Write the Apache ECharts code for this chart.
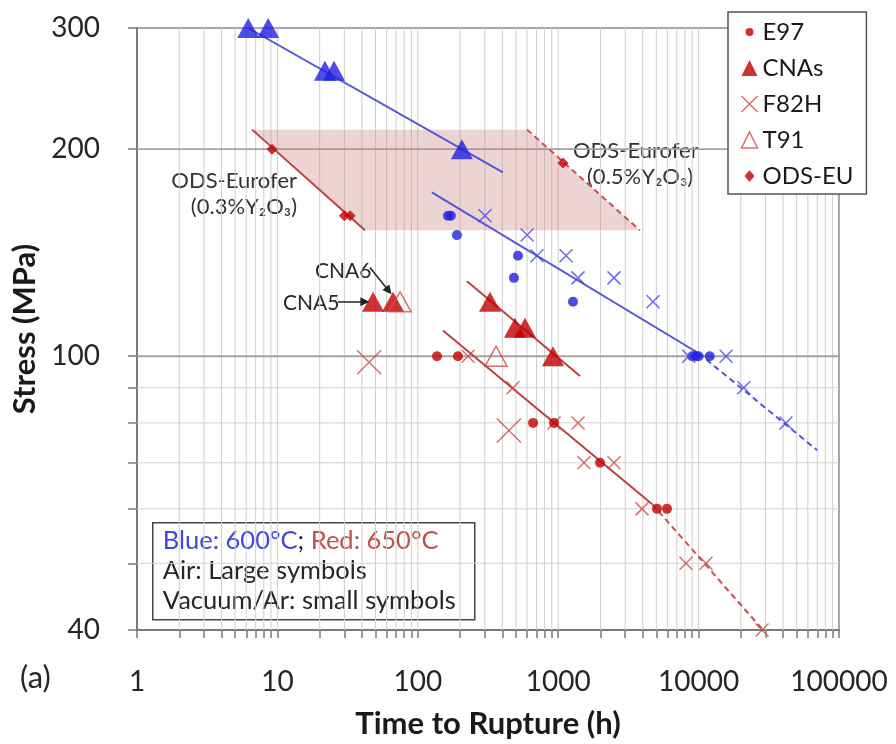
<!DOCTYPE html>
<html><head><meta charset="utf-8">
<script src="https://cdn.jsdelivr.net/npm/echarts@6/dist/echarts.min.js"></script>
<style>html,body{margin:0;padding:0;background:#fff}#c{width:896px;height:744px}</style>
</head><body><div id="c"></div>
<script>
// ---------- tick labels / grid values ----------
const xTickLabels = [1, 10, 100, 1000, 10000, 100000];
const yTickLabels = [40, 100, 200, 300];
const yTickValues = [40, 50, 60, 70, 80, 90, 100, 200, 300];
const yGridMinor = [50, 60, 70, 80, 90];
const yGridMajor = [100, 200];

// ---------- 600 °C (blue) data: [time h, stress MPa] ----------
const e97_600 = [[164,160],[172,160],[190,150],[517,140],[484,130],[1274,120],[9000,100],[9500,100],[10000,100],[12000,100]];
const cnas_600 = [[6.2,300],[8.6,300],[21.8,260],[25.3,260],[206,200]];
const f82h_600 = [[301,160],[600,150],[706,140],[1137,140],[1384,130],[2497,130],[4732,120],[8500,100],[15700,100],[21000,90],[41900,80]];

// ---------- 650 °C (red) data ----------
const e97_650 = [[137,100],[193,100],[662,80],[934,80],[1985,70],[5054,60],[5955,60]];
const cnas_650 = [[48,120],[66.6,120],[327,120],[492,110],[580,110],[918,100]];
const t91_650 = [[74.7,120],[361,100]];
const f82h_650_air = [[45,98],[446,78]];
const f82h_650 = [[228,100],[476,90],[934,80],[1384,80],[1527,70],[2497,70],[3954,60],[8128,50],[11290,50],[28300,40]];
const odsEu = [[9.15,200],[30,160],[33,160],[1082,191]];

// ---------- trend lines ----------
const blueCnaFit = [[6.2,300],[404,185]];
const blueFit = [[126,173],[10000,101]];
const blueFitExt = [[10000,101],[70000,73]];
const redCnaFit = [[224,128.5],[1430,93.6]];
const redFit = [[151,109],[4656,61]];
const redFitExt = [[4656,61],[28770,40]];
const ods03Fit = [[6.6,213.5],[42,152.4]];
const ods05Fit = [[600,213.5],[3826,152.4]];
const odsShade = [[6.6,213.5],[600,213.5],[3826,152.4],[42,152.4]];
const cna5Arrow = [[27,120],[42,120]];
const cna6Arrow = [[45.6,134.6],[62,124.5]];

const lg = Math.log10;
const L = arr => arr.map(p => [lg(p[0]), lg(p[1])]);
const xGridValues = [];
for (let d = 0; d < 5; d++) for (let k = 1; k <= 9; k++) { const v = k * Math.pow(10, d); if (v > 1) xGridValues.push(v); }
const xTickAll = xGridValues.concat([1, 100000]);

const FONT = 'Lato';
const BLUE = '#2020e0', BLUE_L = '#5555dc';
const RED = '#c00000', RED_X = '#cc4a4a', RED_L = '#bb4040';
const XPATH = 'path://M0,0L10,10M10,0L0,10';
const SMALLCIRCLE = 'path://M0,0M16,16M4,8a4,4 0 1 0 8 0a4,4 0 1 0 -8 0z';
const SMALLDIAMOND = 'path://M0,0M16,16M8,2L13,8L8,14L3,8z';

const chart = echarts.init(document.getElementById('c'), null, {renderer: 'canvas'});

function lineSeries(name, data, color, dashed, z) {
  return {name, type: 'line', data: L(data), showSymbol: false, silent: true, z: z || 3,
    lineStyle: {color, width: 2, type: dashed ? [6, 4] : 'solid'}};
}

const option = {
  animation: false,
  textStyle: {fontFamily: FONT},
  grid: {left: 137, right: 57, top: 28, bottom: 112, show: true,
    borderColor: '#8a8a8a', borderWidth: 1.5, backgroundColor: 'transparent'},
  xAxis: {
    type: 'value', min: 0, max: 5, interval: 1,
    name: 'Time to Rupture (h)', nameLocation: 'middle', nameGap: 78,
    nameTextStyle: {fontSize: 31, fontWeight: 'bold', color: '#1a1a1a', fontFamily: FONT},
    axisLine: {show: true, lineStyle: {color: '#7a7a7a', width: 2}},
    axisTick: {show: true, inside: false, length: 8, customValues: xTickAll.map(lg), lineStyle: {color: '#7a7a7a', width: 1.5}},
    axisLabel: {customValues: xTickLabels.map(lg), margin: 38, fontSize: 28, color: '#262626', fontFamily: FONT,
      formatter: v => String(Math.round(Math.pow(10, v)))},
    splitLine: {show: false}
  },
  yAxis: {
    type: 'value', min: lg(40), max: lg(300),
    name: 'Stress (MPa)', nameLocation: 'middle', nameGap: 92, nameRotate: 90,
    nameTextStyle: {fontSize: 31, fontWeight: 'bold', color: '#1a1a1a', fontFamily: FONT},
    axisLine: {show: true, lineStyle: {color: '#7a7a7a', width: 2}},
    axisTick: {show: true, inside: false, length: 9, customValues: yTickValues.map(lg), lineStyle: {color: '#7a7a7a', width: 1.5}},
    axisLabel: {customValues: yTickLabels.map(lg), margin: 37, fontSize: 28, color: '#262626', fontFamily: FONT,
      formatter: v => String(Math.round(Math.pow(10, v)))},
    splitLine: {show: false}
  },
  legend: {
    left: 728, top: 12, orient: 'vertical', selectedMode: false,
    backgroundColor: '#fff', borderColor: '#555', borderWidth: 1.5, borderRadius: 0,
    padding: [8, 13, 6, 11], itemGap: 12, itemWidth: 16, itemHeight: 16,
    textStyle: {fontSize: 24, lineHeight: 24, color: '#1a1a1a', fontFamily: FONT},
    data: [
      {name: 'E97', icon: SMALLCIRCLE, itemStyle: {color: RED, borderWidth: 0}},
      {name: 'CNAs', icon: 'triangle', itemStyle: {color: RED, borderWidth: 0}},
      {name: 'F82H', icon: XPATH, itemStyle: {color: 'none', borderColor: RED_X, borderWidth: 1.5}},
      {name: 'T91', icon: 'triangle', itemStyle: {color: 'none', borderColor: RED_X, borderWidth: 1.5}},
      {name: 'ODS-EU', icon: SMALLDIAMOND, itemStyle: {color: RED, borderWidth: 0}}
    ]
  },
  graphic: [
    {type: 'text', left: 20, top: 662, style: {text: '(a)', fontSize: 31, fill: '#262626', fontFamily: FONT}},
    {type: 'text', right: 896 - 297, top: 170, style: {text: 'ODS-Eurofer', fontSize: 22, fill: '#333', fontFamily: FONT}},
    {type: 'text', right: 896 - 297, top: 196, style: {text: '(0.3%Y₂O₃)', fontSize: 22, fill: '#333', fontFamily: FONT}},
    {type: 'text', left: 573, top: 140, style: {text: 'ODS-Eurofer', fontSize: 22, fill: '#333', fontFamily: FONT}},
    {type: 'text', left: 587, top: 166, style: {text: '(0.5%Y₂O₃)', fontSize: 22, fill: '#333', fontFamily: FONT}},
    {type: 'text', left: 315, top: 261, style: {text: 'CNA6', fontSize: 21, fill: '#262626', fontFamily: FONT}},
    {type: 'text', left: 283, top: 293, style: {text: 'CNA5', fontSize: 21, fill: '#262626', fontFamily: FONT}},
    {type: 'group', left: 152, top: 522, children: [
      {type: 'rect', shape: {x: 0, y: 0, width: 322, height: 97}, style: {fill: '#fff', stroke: '#444', lineWidth: 1.5}},
      {type: 'text', x: 10, y: 3, style: {
        text: '{b|Blue: 600°C}{k|; }{r|Red: 650°C}\nAir: Large symbols\nVacuum/Ar: small symbols',
        fontSize: 25.5, lineHeight: 30, fill: '#262626', fontFamily: FONT,
        rich: {b: {fill: '#4646d8', fontSize: 25.5, fontFamily: FONT}, k: {fill: '#262626', fontSize: 25.5, fontFamily: FONT}, r: {fill: '#c0504d', fontSize: 25.5, fontFamily: FONT}}
      }}
    ]}
  ],
  series: [
    // grid lines
    {type: 'custom', silent: true, z: 1, data: xGridValues.map(v => [lg(v), lg(100)]),
      renderItem: (params, api) => {
        const cs = params.coordSys; const x = api.coord([api.value(0), api.value(1)])[0];
        return {type: 'line', shape: {x1: x, y1: cs.y, x2: x, y2: cs.y + cs.height}, style: {stroke: '#cfcfcf', lineWidth: 1}};
      }},
    {type: 'custom', silent: true, z: 1, data: yGridMinor.map(v => [0.5, lg(v), 0]).concat(yGridMajor.map(v => [0.5, lg(v), 1])),
      renderItem: (params, api) => {
        const cs = params.coordSys; const y = api.coord([api.value(0), api.value(1)])[1];
        const major = api.value(2) === 1;
        return {type: 'line', shape: {x1: cs.x, y1: y, x2: cs.x + cs.width, y2: y},
          style: {stroke: major ? '#a3a3a3' : '#d3d3d3', lineWidth: major ? 1.8 : 1}};
      }},
    // shaded ODS band
    {type: 'custom', silent: true, z: 2, data: L(odsShade),
      renderItem: (params, api) => {
        if (params.dataIndex !== 0) return null;
        const pts = L(odsShade).map(p => api.coord(p));
        return {type: 'polygon', shape: {points: pts}, style: {fill: 'rgba(200,130,125,0.34)'}};
      }},
    // trend lines
    lineSeries('fit-blue-cna', blueCnaFit, BLUE_L, false),
    lineSeries('fit-blue', blueFit, BLUE_L, false),
    lineSeries('fit-blue-ext', blueFitExt, BLUE_L, true),
    lineSeries('fit-red-cna', redCnaFit, RED_L, false),
    lineSeries('fit-red', redFit, RED_L, false),
    lineSeries('fit-red-ext', redFitExt, '#cc5050', true),
    lineSeries('fit-ods03', ods03Fit, RED_L, false),
    lineSeries('fit-ods05', ods05Fit, '#cc5050', true),
    // arrows
    {type: 'scatter', name: 'arrows', data: [], silent: true, z: 3,
      markLine: {silent: true, symbol: ['none', 'triangle'], symbolSize: 9, label: {show: false},
        lineStyle: {color: '#222', width: 1.5, type: 'solid'},
        emphasis: {disabled: true},
        data: [
          [{coord: L(cna5Arrow)[0]}, {coord: L(cna5Arrow)[1]}],
          [{coord: L(cna6Arrow)[0]}, {coord: L(cna6Arrow)[1]}]
        ]}},
    // blue markers
    {name: 'E97 600', type: 'scatter', z: 5, data: L(e97_600), symbol: 'circle', symbolSize: 10, itemStyle: {color: BLUE}},
    {name: 'CNAs 600', type: 'scatter', z: 5, data: L(cnas_600), symbol: 'triangle', symbolSize: [22, 20], itemStyle: {color: BLUE}},
    {name: 'F82H 600', type: 'scatter', z: 5, data: L(f82h_600), symbol: XPATH, symbolSize: 13,
      itemStyle: {color: 'none', borderColor: '#4848e0', borderWidth: 1.5}},
    // red markers
    {name: 'F82H', type: 'scatter', z: 5, data: L(f82h_650), symbol: XPATH, symbolSize: 13,
      itemStyle: {color: 'none', borderColor: RED_X, borderWidth: 1.5}},
    {name: 'F82H air', type: 'scatter', z: 5, data: L(f82h_650_air), symbol: XPATH, symbolSize: 24,
      itemStyle: {color: 'none', borderColor: RED_X, borderWidth: 1.5}},
    {name: 'E97', type: 'scatter', z: 6, data: L(e97_650), symbol: 'circle', symbolSize: 10, itemStyle: {color: RED}},
    {name: 'CNAs', type: 'scatter', z: 6, data: L(cnas_650), symbol: 'triangle', symbolSize: [22, 20], itemStyle: {color: RED}},
    {name: 'T91', type: 'scatter', z: 6, data: L(t91_650), symbol: 'triangle', symbolSize: [22, 20],
      itemStyle: {color: 'none', borderColor: RED_X, borderWidth: 1.5}},
    {name: 'ODS-EU', type: 'scatter', z: 6, data: L(odsEu), symbol: 'diamond', symbolSize: 11, itemStyle: {color: RED}}
  ]
};
chart.setOption(option);
</script>
</body></html>
